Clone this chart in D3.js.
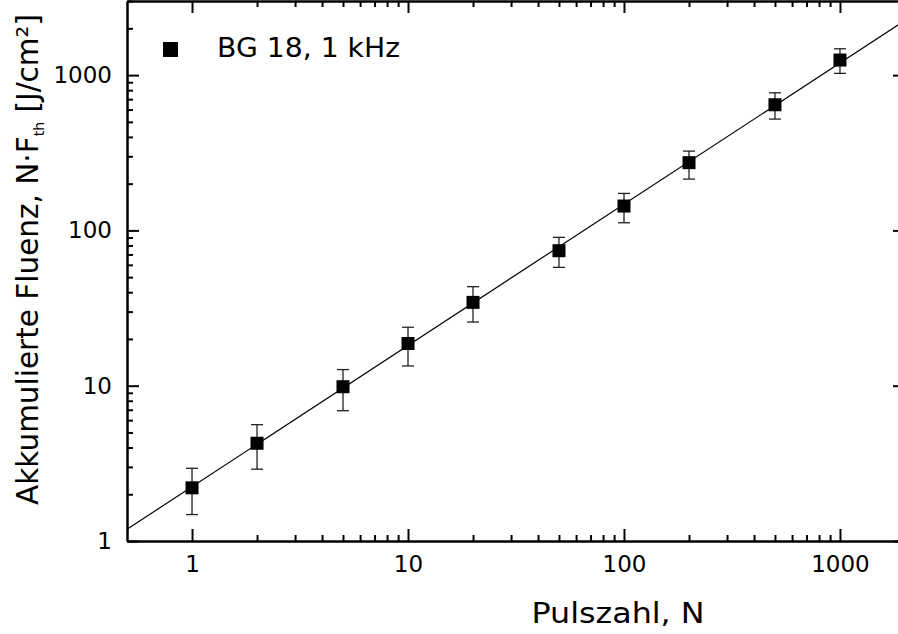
<!DOCTYPE html>
<html>
<head>
  <title>Akkumulierte Fluenz vs. Pulszahl</title>
  <script src="https://d3js.org/d3.v7.min.js"></script>
  <style>
    body { margin: 0; background: #fff; }
    text { font-family: "DejaVu Sans", Verdana, sans-serif; fill: #000; }
  </style>
</head>
<body>
  <div id="chart"></div>

  <script>
    // measured points (pulse number, accumulated fluence, error bar low/high)
    const pulses = [1, 2, 5, 10, 20, 50, 100, 200, 500, 1000];
    const fluence = [2.2, 4.26, 9.85, 18.7, 34.4, 74, 143.5, 273, 644, 1250];
    const errLow = [1.48, 2.9, 6.9, 13.4, 25.7, 57.8, 112, 214, 521, 1026];
    const errHigh = [2.94, 5.61, 12.7, 23.8, 43.4, 90.2, 173, 324, 769, 1477];

    // fitted line, end points
    const fitN = [0.5, 2000];
    const fitF = [1.19, 2250];

    const xMajor = [1, 10, 100, 1000];
    const xMinor = [2, 3, 4, 5, 6, 7, 8, 9, 20, 30, 40, 50, 60, 70, 80, 90,
      200, 300, 400, 500, 600, 700, 800, 900, 2000];
    const yMajor = [1, 10, 100, 1000];
    const yMinor = [2, 3, 4, 5, 6, 7, 8, 9, 20, 30, 40, 50, 60, 70, 80, 90,
      200, 300, 400, 500, 600, 700, 800, 900, 2000, 3000];

    const legendLabel = "BG 18, 1 kHz";

    const width = 898, height = 634;
    const plot = { left: 127, right: 905, top: 1, bottom: 541 };

    const svg = d3.select("#chart")
      .append("svg")
      .attr("width", width)
      .attr("height", height);

    const x = d3.scaleLog()
      .domain([0.5, 2000])
      .range([plot.left, plot.right]);

    const y = d3.scaleLog()
      .domain([1, 3000])
      .range([plot.bottom, plot.top]);

    function styleAxis(g) {
      g.select(".domain").attr("stroke-width", 2).attr("stroke", "#000");
      g.selectAll(".tick line").attr("stroke-width", 2).attr("stroke", "#000");
      g.selectAll("text").style("font-size", "23px").attr("fill", "#000");
    }

    // bottom axis
    svg.append("g")
      .attr("transform", "translate(0," + plot.bottom + ")")
      .call(d3.axisBottom(x).tickValues(xMinor).tickFormat("").tickSize(-6).tickSizeOuter(0))
      .call(styleAxis);
    svg.append("g")
      .attr("transform", "translate(0," + plot.bottom + ")")
      .call(d3.axisBottom(x).tickValues(xMajor).tickFormat(d3.format("d"))
        .tickSize(-12).tickSizeOuter(0).tickPadding(15))
      .call(styleAxis);

    // top axis
    svg.append("g")
      .attr("transform", "translate(0," + plot.top + ")")
      .call(d3.axisTop(x).tickValues(xMinor).tickFormat("").tickSize(-6).tickSizeOuter(0))
      .call(styleAxis);
    svg.append("g")
      .attr("transform", "translate(0," + plot.top + ")")
      .call(d3.axisTop(x).tickValues(xMajor).tickFormat("").tickSize(-12).tickSizeOuter(0))
      .call(styleAxis);

    // left axis
    svg.append("g")
      .attr("transform", "translate(" + plot.left + ",0)")
      .call(d3.axisLeft(y).tickValues(yMinor).tickFormat("").tickSize(-6).tickSizeOuter(0))
      .call(styleAxis);
    svg.append("g")
      .attr("transform", "translate(" + plot.left + ",0)")
      .call(d3.axisLeft(y).tickValues(yMajor).tickFormat(d3.format("d"))
        .tickSize(-12).tickSizeOuter(0).tickPadding(15))
      .call(styleAxis);

    // right axis
    svg.append("g")
      .attr("transform", "translate(" + plot.right + ",0)")
      .call(d3.axisRight(y).tickValues(yMinor).tickFormat("").tickSize(-6).tickSizeOuter(0))
      .call(styleAxis);
    svg.append("g")
      .attr("transform", "translate(" + plot.right + ",0)")
      .call(d3.axisRight(y).tickValues(yMajor).tickFormat("").tickSize(-12).tickSizeOuter(0))
      .call(styleAxis);

    // fit line
    const fitData = fitN.map((n, i) => ({ n: n, f: fitF[i] }));
    svg.append("path")
      .datum(fitData)
      .attr("fill", "none")
      .attr("stroke", "#000")
      .attr("stroke-width", 1.2)
      .attr("d", d3.line().x(d => x(d.n)).y(d => y(d.f)));

    const data = pulses.map((n, i) => ({ n: n, f: fluence[i], lo: errLow[i], hi: errHigh[i] }));

    // error bars
    const err = svg.selectAll(".err")
      .data(data)
      .enter()
      .append("g")
      .attr("class", "err")
      .attr("stroke", "#222")
      .attr("stroke-width", 1.3);
    err.append("line")
      .attr("x1", d => x(d.n)).attr("x2", d => x(d.n))
      .attr("y1", d => y(d.lo)).attr("y2", d => y(d.hi));
    err.append("line")
      .attr("x1", d => x(d.n) - 6).attr("x2", d => x(d.n) + 6)
      .attr("y1", d => y(d.lo)).attr("y2", d => y(d.lo));
    err.append("line")
      .attr("x1", d => x(d.n) - 6).attr("x2", d => x(d.n) + 6)
      .attr("y1", d => y(d.hi)).attr("y2", d => y(d.hi));

    // squares
    svg.selectAll(".pt")
      .data(data)
      .enter()
      .append("rect")
      .attr("class", "pt")
      .attr("x", d => x(d.n) - 6.5)
      .attr("y", d => y(d.f) - 6.5)
      .attr("width", 13)
      .attr("height", 13)
      .attr("fill", "#000");

    // legend
    svg.append("rect")
      .attr("x", 163).attr("y", 42)
      .attr("width", 15).attr("height", 15)
      .attr("fill", "#000");
    svg.append("text")
      .attr("x", 217)
      .attr("y", 57)
      .style("font-size", "26px")
      .attr("textLength", 183)
      .attr("lengthAdjust", "spacingAndGlyphs")
      .text(legendLabel);

    // axis titles
    svg.append("text")
      .attr("x", 618)
      .attr("y", 623)
      .attr("text-anchor", "middle")
      .style("font-size", "28px")
      .attr("textLength", 173)
      .attr("lengthAdjust", "spacingAndGlyphs")
      .text("Pulszahl, N");

    const yTitle = svg.append("text")
      .attr("transform", "translate(38,505) rotate(-90)")
      .attr("text-anchor", "start")
      .style("font-size", "29.5px");
    yTitle.append("tspan").text("Akkumulierte Fluenz, N·F");
    yTitle.append("tspan").attr("dy", 6).style("font-size", "14px").text("th");
    yTitle.append("tspan").attr("dy", -6).text(" [J/cm²]");
  </script>
</body>
</html>
